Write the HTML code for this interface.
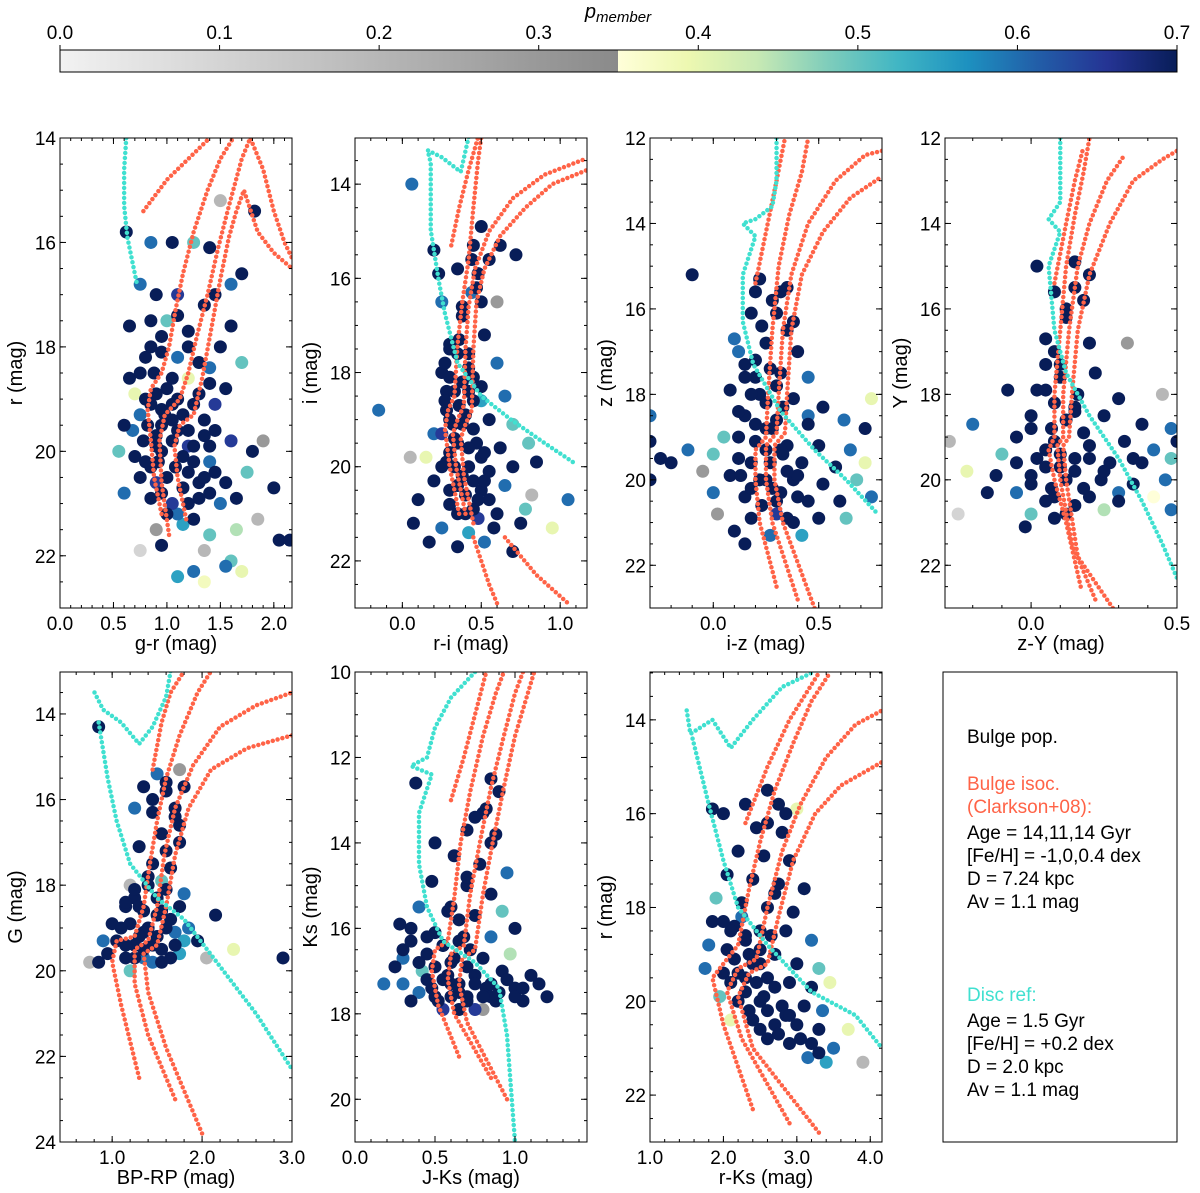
<!DOCTYPE html>
<html><head><meta charset="utf-8"><style>
body{margin:0;background:#fff;}
svg{display:block;font-family:"Liberation Sans","DejaVu Sans",sans-serif;}
</style></head><body>
<svg id="fig" width="1200" height="1193" viewBox="0 0 1200 1193" xmlns="http://www.w3.org/2000/svg">
<defs>
<linearGradient id="gGray" x1="0" x2="1"><stop offset="0" stop-color="#f2f2f2"/><stop offset="1" stop-color="#8a8a8a"/></linearGradient>
<linearGradient id="gYl" x1="0" x2="1">
<stop offset="0" stop-color="#ffffd9"/><stop offset=".125" stop-color="#edf8b1"/><stop offset=".25" stop-color="#c7e9b4"/><stop offset=".375" stop-color="#7fcdbb"/><stop offset=".5" stop-color="#41b6c4"/><stop offset=".625" stop-color="#1d91c0"/><stop offset=".75" stop-color="#225ea8"/><stop offset=".875" stop-color="#253494"/><stop offset="1" stop-color="#081d58"/></linearGradient>
</defs>
<g>
<rect x="60" y="50" width="558" height="22" fill="url(#gGray)"/>
<rect x="618" y="50" width="559" height="22" fill="url(#gYl)"/>
<rect x="60" y="50" width="1117" height="22" fill="none" stroke="#000" stroke-width="1"/>
<text x="618" y="18" font-size="20" font-style="italic" text-anchor="middle">p<tspan font-size="15" dy="4">member</tspan></text>
</g>
<g id="cbticks"></g>
<g id="panels"></g>
<g>
<rect x="943" y="672" width="234" height="470" fill="#fff" stroke="#000" stroke-width="1"/>
<text x="967" y="743" font-size="19">Bulge pop.</text>
<text x="967" y="790" font-size="19" fill="#ff6347">Bulge isoc.</text>
<text x="967" y="813" font-size="19" fill="#ff6347">(Clarkson+08):</text>
<text x="967" y="839" font-size="19">Age = 14,11,14 Gyr</text>
<text x="967" y="862" font-size="19">[Fe/H] = -1,0,0.4 dex</text>
<text x="967" y="885" font-size="19">D = 7.24 kpc</text>
<text x="967" y="908" font-size="19">Av = 1.1 mag</text>
<text x="967" y="1001" font-size="19" fill="#40e0d0">Disc ref:</text>
<text x="967" y="1027" font-size="19">Age = 1.5 Gyr</text>
<text x="967" y="1050" font-size="19">[Fe/H] = +0.2 dex</text>
<text x="967" y="1073" font-size="19">D = 2.0 kpc</text>
<text x="967" y="1096" font-size="19">Av = 1.1 mag</text>
</g>
</svg>
<script>
const cbTicks=[0.0,0.1,0.2,0.3,0.4,0.5,0.6,0.7];
// scatter data [color, mag, pmember]
const pts1=[[0.62,15.8,.7],[0.85,16.0,.6],[1.05,16.0,.7],[1.25,16.0,.5],[0.75,16.8,.6],[0.9,17.0,.7],[1.1,17.4,.7],[1.35,17.2,.7],[1.6,16.8,.6],[1.5,15.2,.2],[1.82,15.4,.7],[0.95,17.8,.7],[1.2,18.0,.7],[0.8,18.2,.7],[0.65,18.6,.7],[1.4,18.4,.6],[1.0,18.8,.7],[1.3,18.9,.7],[1.55,18.8,.7],[1.7,18.3,.5],[0.6,19.5,.7],[0.75,19.3,.6],[0.9,19.7,.7],[1.1,19.6,.7],[1.25,19.9,.7],[1.45,19.6,.7],[1.6,19.8,.65],[0.55,20.0,.5],[0.7,20.1,.7],[0.85,20.3,.7],[1.0,20.5,.7],[1.2,20.4,.7],[1.4,20.2,.6],[1.55,20.6,.7],[1.75,20.4,.5],[1.9,19.8,.3],[0.6,20.8,.6],[0.85,20.9,.7],[1.05,21.0,.65],[1.3,20.9,.7],[1.5,21.0,.6],[2.0,20.7,.7],[0.9,21.5,.3],[1.15,21.4,.55],[1.4,21.6,.5],[1.65,21.5,.45],[2.05,21.7,.7],[2.15,21.7,.7],[1.85,21.3,.2],[0.75,21.9,.1],[1.35,21.9,.2],[1.6,22.1,.5],[1.25,22.3,.6],[1.7,22.3,.4],[1.55,22.2,.6],[1.1,22.4,.55],[1.35,22.5,.38],[0.9,18.9,.7],[1.15,19.3,.7],[1.35,19.4,.7],[0.95,20.0,.7],[1.15,20.1,.7],[1.3,20.6,.7],[1.05,19.1,.7],[0.8,19.0,.7],[1.5,18.0,.7],[1.2,18.6,.4],[1.8,20.0,.7],[1.65,20.9,.7],[0.65,17.6,.7],[1.0,17.5,.5],[1.45,17.0,.7],[1.6,17.6,.7],[1.7,16.6,.7],[1.4,16.1,.7],[0.95,21.8,.7],[1.0,21.2,.7],[1.25,21.3,.7],[1.2,17.7,.7],[0.98,19.3,.7],
[0.85,18.0,.7],[0.95,18.1,.7],[1.1,18.2,.6],[1.3,18.3,.7],[0.75,18.5,.7],[0.88,18.5,.7],[1.05,18.6,.7],[1.4,18.7,.7],[0.7,18.9,.4],[0.85,19.1,.7],[0.95,19.2,.7],[1.1,19.0,.7],[1.25,19.1,.7],[1.45,19.1,.65],[0.68,19.6,.6],[0.82,19.5,.7],[0.95,19.5,.7],[1.05,19.4,.7],[1.2,19.6,.7],[1.35,19.7,.7],[0.78,19.8,.7],[0.9,19.9,.7],[1.05,19.8,.7],[1.2,19.9,.65],[1.4,19.9,.7],[0.8,20.2,.7],[0.92,20.2,.7],[1.08,20.3,.7],[1.25,20.2,.7],[1.45,20.4,.7],[0.75,20.5,.7],[0.9,20.6,.65],[1.15,20.7,.7],[1.35,20.5,.7],[0.95,20.8,.7],[1.2,21.0,.7],[1.4,20.8,.7],[1.1,21.2,.6],[0.85,17.5,.7],[1.1,17.0,.65]];
const pts2=[[0.06,14.0,.6],[0.5,14.9,.7],[0.45,15.3,.7],[0.72,15.5,.7],[0.55,15.6,.7],[0.35,15.8,.7],[0.47,16.2,.7],[0.6,16.5,.3],[0.38,16.8,.7],[0.52,17.2,.7],[0.3,17.5,.7],[0.42,17.6,.7],[0.6,17.8,.6],[0.25,18.0,.7],[0.38,18.2,.7],[0.5,18.3,.7],[0.65,18.5,.6],[-0.15,18.8,.6],[0.28,18.8,.7],[0.4,18.9,.7],[0.55,19.0,.7],[0.7,19.1,.5],[0.2,19.3,.6],[0.33,19.4,.7],[0.47,19.5,.7],[0.62,19.6,.7],[0.8,19.5,.5],[0.05,19.8,.2],[0.15,19.8,.4],[0.28,19.9,.7],[0.42,20.0,.7],[0.55,20.1,.7],[0.7,20.0,.7],[0.85,19.9,.7],[0.2,20.3,.7],[0.35,20.4,.7],[0.5,20.5,.7],[0.65,20.4,.6],[0.82,20.6,.2],[0.1,20.7,.7],[0.3,20.8,.7],[0.45,20.9,.7],[0.6,21.0,.7],[0.78,20.9,.5],[1.05,20.7,.6],[0.07,21.2,.7],[0.25,21.3,.6],[0.42,21.4,.55],[0.58,21.3,.7],[0.75,21.2,.7],[0.95,21.3,.4],[0.17,21.6,.7],[0.35,21.7,.7],[0.52,21.6,.6],[0.7,21.8,.7],[0.32,19.1,.7],[0.45,18.6,.7],[0.38,20.2,.7],[0.5,19.8,.7],[0.28,18.4,.7],[0.36,17.3,.7],[0.55,20.7,.7],[0.4,21.0,.7],[0.62,15.3,.7],[0.25,16.5,.6],
[0.3,17.4,.7],[0.35,17.6,.7],[0.27,17.8,.7],[0.42,17.9,.7],[0.3,18.1,.7],[0.45,18.1,.7],[0.33,18.4,.7],[0.42,18.4,.7],[0.5,18.6,.55],[0.27,18.6,.7],[0.36,18.7,.7],[0.3,19.0,.7],[0.38,19.1,.7],[0.45,19.2,.7],[0.25,19.3,.65],[0.35,19.5,.7],[0.42,19.6,.7],[0.52,19.7,.7],[0.3,19.7,.7],[0.25,20.0,.7],[0.33,20.0,.7],[0.45,20.3,.7],[0.52,20.3,.7],[0.3,20.5,.7],[0.4,20.6,.7],[0.48,20.7,.7],[0.35,21.0,.7],[0.48,21.1,.65],[0.44,15.6,.7],[0.48,15.9,.7],[0.5,16.5,.7],[0.44,16.3,.6],[0.38,16.6,.7],[0.2,15.4,.7],[0.23,15.9,.7]];
const pts3=[[-0.1,15.2,.7],[0.22,15.3,.7],[0.35,15.5,.7],[0.28,15.8,.7],[0.18,16.1,.7],[0.38,16.3,.7],[0.1,16.7,.6],[0.25,16.8,.7],[0.4,17.0,.7],[0.15,17.3,.7],[0.32,17.5,.7],[0.45,17.6,.6],[0.08,17.9,.7],[0.22,18.0,.7],[0.38,18.1,.7],[0.52,18.3,.7],[0.75,18.1,.4],[0.15,18.5,.7],[0.3,18.6,.7],[0.45,18.7,.7],[0.62,18.6,.6],[0.72,18.8,.7],[-0.3,18.5,.6],[0.05,19.0,.5],[0.2,19.1,.7],[0.35,19.2,.7],[0.5,19.2,.7],[0.65,19.3,.6],[-0.3,19.1,.7],[-0.12,19.3,.6],[0.0,19.4,.5],[0.12,19.5,.7],[0.27,19.6,.7],[0.42,19.6,.7],[0.58,19.7,.7],[0.72,19.6,.4],[-0.25,19.5,.7],[-0.2,19.6,.7],[-0.05,19.8,.3],[0.08,19.9,.7],[0.22,20.0,.7],[0.38,20.0,.7],[0.52,20.1,.7],[0.68,20.0,.5],[-0.3,20.0,.7],[0.0,20.3,.6],[0.15,20.4,.7],[0.3,20.5,.7],[0.45,20.5,.7],[0.6,20.5,.7],[0.75,20.4,.6],[0.02,20.8,.3],[0.18,20.9,.7],[0.35,20.9,.7],[0.5,20.9,.7],[0.63,20.9,.5],[0.1,21.2,.7],[0.27,21.3,.6],[0.42,21.3,.55],[0.15,21.5,.7],[0.32,19.3,.7],[0.25,18.8,.7],[0.28,20.2,.7],[0.4,19.9,.7],[0.2,17.6,.7],
[0.2,17.2,.7],[0.27,17.4,.7],[0.15,17.6,.7],[0.3,17.8,.7],[0.18,18.0,.7],[0.25,18.2,.7],[0.33,18.3,.7],[0.12,18.4,.7],[0.2,18.7,.7],[0.28,18.8,.7],[0.12,19.0,.7],[0.25,19.3,.7],[0.33,19.4,.7],[0.18,19.6,.7],[0.35,19.8,.7],[0.13,19.9,.7],[0.25,20.0,.7],[0.18,20.2,.7],[0.32,20.3,.7],[0.4,20.4,.7],[0.23,20.6,.7],[0.3,20.8,.65],[0.38,21.0,.7],[0.2,15.6,.7],[0.32,15.6,.7],[0.3,16.1,.7],[0.35,16.5,.7],[0.23,16.4,.7],[0.12,17.0,.6],[0.45,18.5,.6]];
const pts4=[[0.02,15.0,.7],[0.15,14.9,.7],[0.2,15.2,.7],[0.08,15.6,.7],[0.18,15.8,.7],[0.12,16.2,.7],[0.05,16.7,.7],[0.2,16.8,.7],[0.33,16.8,.3],[0.1,17.3,.7],[0.22,17.5,.7],[-0.08,17.9,.7],[0.05,17.9,.7],[0.16,18.0,.7],[0.3,18.1,.7],[0.45,18.0,.2],[0.0,18.5,.7],[0.12,18.6,.7],[0.25,18.5,.7],[0.38,18.7,.7],[-0.2,18.7,.6],[0.48,18.8,.6],[-0.28,19.1,.2],[-0.05,19.0,.7],[0.08,19.1,.7],[0.2,19.2,.7],[0.32,19.1,.7],[0.42,19.3,.6],[0.5,19.1,.7],[-0.1,19.4,.5],[0.02,19.5,.7],[0.15,19.5,.7],[0.27,19.6,.7],[0.38,19.6,.7],[0.48,19.5,.5],[-0.22,19.8,.4],[-0.12,19.9,.7],[0.0,19.9,.7],[0.12,20.0,.7],[0.24,20.0,.7],[0.35,20.1,.7],[0.46,20.0,.6],[-0.05,20.3,.6],[0.08,20.4,.7],[0.2,20.4,.7],[0.3,20.5,.7],[0.42,20.4,.35],[-0.25,20.8,.1],[0.0,20.8,.5],[0.12,20.8,.7],[0.25,20.7,.45],[0.48,20.7,.6],[-0.02,21.1,.7],[0.1,19.7,.7],[0.05,19.3,.7],[0.15,18.3,.7],[0.08,17.0,.7],
[0.05,17.3,.7],[0.1,17.6,.7],[0.02,17.9,.7],[0.08,18.2,.7],[0.15,18.4,.7],[0.0,18.8,.7],[0.07,18.8,.7],[0.18,18.9,.7],[0.1,19.4,.7],[0.2,19.5,.7],[-0.05,19.6,.7],[0.05,19.7,.7],[0.15,19.8,.7],[0.25,19.8,.7],[0.0,20.1,.7],[0.07,20.2,.7],[0.18,20.2,.7],[0.3,20.3,.6],[0.05,20.5,.7],[0.15,20.6,.7],[0.08,20.9,.7],[-0.15,20.3,.7],[0.35,19.5,.7],[0.12,16.0,.7],[0.15,15.5,.7]];
const pts5=[[0.85,14.3,.7],[1.5,15.4,.6],[1.75,15.3,.3],[1.35,15.7,.7],[1.6,15.8,.7],[1.8,15.7,.7],[1.25,16.2,.6],[1.45,16.3,.7],[1.7,16.4,.7],[1.55,16.8,.7],[1.3,17.1,.7],[1.75,17.0,.7],[1.45,17.5,.7],[1.65,17.6,.7],[1.2,18.0,.2],[1.4,18.0,.7],[1.6,18.1,.7],[1.8,18.2,.6],[1.15,18.5,.7],[1.35,18.6,.7],[1.55,18.6,.7],[1.75,18.5,.7],[1.0,18.9,.7],[1.2,18.9,.7],[1.4,19.0,.7],[1.6,19.0,.7],[1.85,19.0,.6],[2.15,18.7,.7],[0.9,19.3,.6],[1.05,19.3,.7],[1.25,19.4,.7],[1.45,19.4,.7],[1.7,19.4,.7],[1.95,19.3,.7],[0.95,19.6,.7],[1.15,19.7,.7],[1.35,19.7,.6],[1.55,19.8,.7],[1.75,19.6,.55],[2.05,19.7,.2],[2.35,19.5,.4],[0.75,19.8,.2],[0.85,19.8,.7],[1.2,20.0,.5],[2.9,19.7,.7],[1.6,17.2,.7],[1.35,19.1,.7],[1.5,18.3,.7],[1.25,18.3,.7],[1.45,16.0,.7],
[1.15,18.4,.7],[1.3,18.5,.7],[1.5,18.7,.7],[1.65,18.8,.7],[1.1,19.0,.7],[1.3,19.2,.7],[1.5,19.2,.7],[1.7,19.1,.6],[1.15,19.4,.7],[1.35,19.5,.7],[1.55,19.5,.7],[1.8,19.3,.55],[1.25,19.7,.7],[1.45,19.8,.6],[1.65,19.7,.7],[1.25,18.1,.7],[1.55,17.9,.5],[1.7,16.2,.7],[1.6,15.6,.7],[1.75,16.6,.7],[1.4,17.8,.7]];
const pts6=[[0.38,12.6,.7],[0.85,12.5,.7],[0.9,12.8,.7],[0.8,13.3,.7],[0.7,13.7,.7],[0.88,13.8,.7],[0.5,14.0,.7],[0.62,14.3,.7],[0.78,14.5,.7],[0.95,14.7,.6],[0.48,14.9,.7],[0.7,15.0,.7],[0.85,15.2,.7],[0.4,15.5,.6],[0.58,15.6,.7],[0.75,15.7,.7],[0.92,15.6,.5],[0.35,16.0,.7],[0.5,16.1,.7],[0.68,16.2,.7],[0.85,16.2,.6],[1.0,16.0,.7],[0.3,16.5,.7],[0.45,16.6,.7],[0.62,16.7,.7],[0.8,16.7,.7],[0.97,16.6,.45],[0.25,16.9,.7],[0.42,17.0,.5],[0.58,17.1,.7],[0.75,17.1,.7],[0.92,17.0,.7],[1.1,17.1,.7],[0.3,17.3,.6],[0.48,17.4,.7],[0.65,17.5,.7],[0.82,17.4,.7],[1.0,17.4,.7],[1.15,17.3,.7],[0.18,17.3,.6],[0.35,17.7,.7],[0.52,17.7,.7],[0.7,17.7,.7],[0.88,17.7,.7],[1.05,17.7,.7],[1.2,17.6,.7],[0.8,17.9,.3],[0.55,16.4,.7],[0.72,16.5,.7],[0.6,17.3,.7],[0.85,17.6,.7],[0.65,15.8,.7],
[0.35,16.3,.7],[0.45,16.2,.7],[0.55,16.4,.7],[0.65,16.3,.7],[0.4,16.8,.7],[0.5,16.9,.7],[0.6,16.8,.7],[0.7,16.9,.7],[0.45,17.2,.7],[0.55,17.2,.7],[0.65,17.3,.7],[0.75,17.3,.7],[0.85,17.3,.7],[0.5,17.6,.7],[0.6,17.6,.7],[0.7,17.6,.7],[0.8,17.6,.7],[0.9,17.5,.7],[1.0,17.6,.7],[0.95,17.2,.7],[1.05,17.4,.7],[0.55,17.9,.65],[0.65,17.9,.7],[0.75,17.9,.65],[0.3,16.7,.6],[0.4,17.5,.6],[0.28,15.9,.7],[0.6,15.5,.7],[0.7,14.8,.7],[0.85,14.0,.7],[0.82,13.2,.7],[0.75,13.4,.7]];
const pts7=[[2.3,15.8,.7],[2.6,15.5,.7],[3.0,15.9,.4],[2.45,16.3,.7],[2.8,16.4,.7],[2.2,16.8,.7],[2.55,16.9,.7],[2.9,17.0,.7],[2.05,17.3,.7],[2.4,17.4,.7],[2.75,17.5,.7],[3.1,17.6,.7],[1.9,17.8,.5],[2.25,17.9,.7],[2.6,18.0,.7],[2.95,18.1,.7],[1.85,18.3,.7],[2.15,18.4,.7],[2.5,18.5,.7],[2.85,18.5,.7],[3.2,18.7,.6],[1.8,18.8,.6],[2.05,18.9,.7],[2.35,19.0,.7],[2.7,19.0,.7],[3.0,19.2,.7],[3.3,19.3,.5],[1.75,19.3,.6],[2.0,19.4,.7],[2.3,19.5,.7],[2.6,19.5,.7],[2.9,19.6,.7],[3.2,19.7,.7],[3.45,19.6,.4],[1.95,19.9,.5],[2.2,20.0,.7],[2.5,20.0,.7],[2.8,20.1,.7],[3.1,20.1,.7],[3.35,20.2,.6],[2.1,20.4,.4],[2.4,20.4,.7],[2.7,20.5,.7],[3.0,20.5,.7],[3.3,20.6,.7],[3.7,20.6,.4],[2.6,20.8,.7],[2.9,20.9,.7],[3.2,20.9,.7],[3.5,21.0,.6],[3.4,21.3,.55],[3.9,21.3,.2],[2.5,19.2,.7],[2.3,18.6,.7],[2.7,17.7,.7],
[2.1,18.5,.7],[2.3,18.7,.7],[2.5,18.9,.7],[2.15,19.1,.7],[2.4,19.2,.7],[2.2,19.4,.7],[2.45,19.6,.7],[2.7,19.7,.7],[2.1,19.6,.7],[2.3,19.8,.7],[2.55,19.9,.7],[2.35,20.2,.7],[2.6,20.2,.7],[2.85,20.3,.7],[2.5,20.6,.7],[2.75,20.7,.7],[3.05,20.8,.7],[2.9,20.3,.7],[3.3,21.1,.7],[3.15,21.2,.6],[2.0,18.3,.7],[2.25,18.2,.6],[2.65,18.6,.7],[2.6,16.2,.7],[2.85,16.0,.7],[2.75,15.8,.7],[2.0,16.0,.7],[1.85,15.9,.7]];
// isochrones: [[color, mag], ...]
const iso=[
 {p:0,c:'#ff6347',d:[[0.95,21.2],[0.88,20.5],[0.85,19.8],[0.82,19.2],[0.85,18.8],[0.95,18.5],[1.02,18.0],[1.08,17.3],[1.15,16.6],[1.25,15.8],[1.38,15.0],[1.5,14.4],[1.62,14.0]]},
 {p:0,c:'#ff6347',d:[[1.02,21.6],[0.95,20.6],[0.93,19.8],[0.98,19.3],[1.12,19.0],[1.2,18.5],[1.28,17.8],[1.38,17.0],[1.48,16.1],[1.58,15.3],[1.7,14.4],[1.78,14.0],[1.9,14.6],[2.0,15.4],[2.1,16.0],[2.17,16.3]]},
 {p:0,c:'#ff6347',d:[[1.18,21.3],[1.1,20.5],[1.07,19.9],[1.12,19.5],[1.25,19.3],[1.33,18.6],[1.42,17.6],[1.5,16.7],[1.58,15.9],[1.65,15.4],[1.72,15.0],[1.85,15.8],[2.0,16.2],[2.17,16.5]]},
 {p:0,c:'#ff6347',d:[[0.78,15.4],[1.0,14.8],[1.2,14.4],[1.4,14.0]]},
 {p:0,c:'#40e0d0',d:[[0.62,14.0],[0.6,14.6],[0.6,15.3],[0.63,15.9],[0.68,16.4],[0.72,16.8]]},
 {p:1,c:'#ff6347',d:[[0.36,21.0],[0.3,20.0],[0.27,19.2],[0.29,18.8],[0.33,18.5],[0.35,17.4],[0.38,16.5],[0.42,15.6],[0.45,14.5],[0.48,13.5],[0.5,13.0]]},
 {p:1,c:'#ff6347',d:[[0.4,21.0],[0.34,20.0],[0.32,19.3],[0.35,19.0],[0.39,18.7],[0.4,17.5],[0.42,16.6],[0.46,15.8],[0.55,15.0],[0.7,14.3],[0.9,13.8],[1.17,13.45]]},
 {p:1,c:'#ff6347',d:[[0.45,21.2],[0.39,20.2],[0.37,19.4],[0.4,19.1],[0.44,18.8],[0.45,17.5],[0.47,16.5],[0.52,15.8],[0.62,15.1],[0.78,14.5],[0.95,14.0],[1.17,13.7]]},
 {p:1,c:'#ff6347',d:[[0.31,15.3],[0.36,14.5],[0.42,13.7],[0.48,13.0]]},
 {p:1,c:'#ff6347',d:[[0.45,21.5],[0.5,22.0],[0.55,22.5],[0.6,22.9]]},
 {p:1,c:'#ff6347',d:[[0.65,21.5],[0.85,22.3],[1.05,22.9]]},
 {p:1,c:'#40e0d0',d:[[0.42,13.0],[0.37,13.74],[0.25,13.43],[0.16,13.28],[0.18,13.55],[0.18,14.98],[0.23,16.04],[0.27,16.75],[0.35,17.8],[0.5,18.5],[0.68,18.98],[0.88,19.45],[1.08,19.9]]},
 {p:2,c:'#ff6347',d:[[0.3,22.5],[0.22,21.0],[0.2,20.0],[0.2,19.3],[0.25,19.0],[0.26,18.0],[0.28,16.5],[0.31,15.0],[0.36,13.8],[0.42,12.8],[0.45,12.0]]},
 {p:2,c:'#ff6347',d:[[0.4,22.8],[0.28,21.0],[0.25,20.0],[0.25,19.2],[0.3,18.9],[0.31,18.0],[0.33,16.5],[0.37,15.2],[0.45,14.0],[0.58,13.0],[0.72,12.4],[0.8,12.3]]},
 {p:2,c:'#ff6347',d:[[0.48,23.0],[0.33,21.0],[0.29,20.0],[0.29,19.2],[0.34,18.9],[0.35,18.0],[0.37,16.5],[0.42,15.2],[0.52,14.2],[0.65,13.4],[0.8,12.9]]},
 {p:2,c:'#ff6347',d:[[0.2,15.4],[0.25,14.2],[0.3,13.0],[0.34,12.0]]},
 {p:2,c:'#40e0d0',d:[[0.3,12.0],[0.3,13.0],[0.28,13.6],[0.2,13.9],[0.14,14.0],[0.2,14.3],[0.14,15.2],[0.14,16.3],[0.19,17.3],[0.32,18.4],[0.48,19.3],[0.63,20.0],[0.78,20.8]]},
 {p:3,c:'#ff6347',d:[[0.17,22.5],[0.12,21.0],[0.08,20.0],[0.06,19.3],[0.08,19.0],[0.08,18.0],[0.1,16.5],[0.12,15.0],[0.15,13.8],[0.18,12.8],[0.2,12.0]]},
 {p:3,c:'#ff6347',d:[[0.22,22.8],[0.14,21.5],[0.1,20.0],[0.09,19.2],[0.11,19.0],[0.11,18.0],[0.13,16.5],[0.16,15.0],[0.2,14.0],[0.26,13.0],[0.32,12.4]]},
 {p:3,c:'#ff6347',d:[[0.28,23.0],[0.16,21.8],[0.12,20.0],[0.11,19.2],[0.13,19.0],[0.14,18.0],[0.16,16.5],[0.2,15.2],[0.27,14.0],[0.35,13.0],[0.45,12.5],[0.5,12.3]]},
 {p:3,c:'#ff6347',d:[[0.08,15.4],[0.12,14.0],[0.15,13.0],[0.18,12.2]]},
 {p:3,c:'#40e0d0',d:[[0.1,12.0],[0.1,13.5],[0.06,13.9],[0.1,14.2],[0.06,15.0],[0.08,16.5],[0.12,17.5],[0.2,18.5],[0.3,19.5],[0.38,20.5],[0.45,21.5],[0.5,22.3]]},
 {p:4,c:'#ff6347',d:[[1.3,22.5],[1.1,20.8],[1.0,19.8],[1.05,19.3],[1.25,19.2],[1.35,18.5],[1.42,17.5],[1.5,16.5],[1.6,15.5],[1.75,14.5],[1.95,13.5],[2.1,13.0]]},
 {p:4,c:'#ff6347',d:[[1.7,23.0],[1.4,21.5],[1.25,20.3],[1.25,19.5],[1.4,19.3],[1.5,18.5],[1.58,17.3],[1.7,16.2],[1.9,15.2],[2.2,14.3],[2.6,13.8],[3.0,13.5]]},
 {p:4,c:'#ff6347',d:[[2.0,23.8],[1.6,21.8],[1.4,20.5],[1.35,19.6],[1.5,19.4],[1.6,18.5],[1.7,17.3],[1.85,16.2],[2.1,15.3],[2.5,14.8],[3.0,14.5]]},
 {p:4,c:'#ff6347',d:[[1.45,15.3],[1.55,14.2],[1.65,13.5],[1.8,13.0]]},
 {p:4,c:'#40e0d0',d:[[1.65,13.0],[1.6,13.6],[1.45,14.3],[1.3,14.7],[1.1,14.2],[0.9,13.9],[0.78,13.4]]},
 {p:4,c:'#40e0d0',d:[[0.85,14.2],[0.95,15.5],[1.05,16.5],[1.2,17.5],[1.5,18.3],[1.8,18.8],[2.2,19.9],[2.6,21.0],[3.0,22.3]]},
 {p:5,c:'#ff6347',d:[[0.65,19.0],[0.52,17.8],[0.48,17.0],[0.5,16.5],[0.58,16.3],[0.62,15.3],[0.66,14.0],[0.72,12.8],[0.8,11.5],[0.88,10.5],[0.93,10.0]]},
 {p:5,c:'#ff6347',d:[[0.85,19.5],[0.62,18.0],[0.58,17.2],[0.6,16.6],[0.68,16.4],[0.72,15.2],[0.78,14.0],[0.85,12.7],[0.93,11.5],[1.0,10.5],[1.05,10.0]]},
 {p:5,c:'#ff6347',d:[[0.95,20.0],[0.7,18.2],[0.65,17.3],[0.67,16.7],[0.75,16.5],[0.8,15.2],[0.86,14.0],[0.93,12.7],[1.0,11.5],[1.08,10.5],[1.12,10.0]]},
 {p:5,c:'#ff6347',d:[[0.6,13.0],[0.68,12.0],[0.75,11.0],[0.82,10.0]]},
 {p:5,c:'#40e0d0',d:[[0.75,10.0],[0.6,10.6],[0.5,11.3],[0.45,12.0],[0.35,12.2],[0.48,12.4],[0.4,13.3],[0.4,14.5],[0.45,15.5],[0.55,16.3],[0.75,16.8],[0.9,17.4],[0.95,18.5],[0.98,20.0],[1.0,21.0]]},
 {p:6,c:'#ff6347',d:[[2.4,22.3],[2.0,20.5],[1.85,19.5],[2.0,19.2],[2.2,18.8],[2.35,17.6],[2.5,16.6],[2.7,15.5],[2.95,14.5],[3.2,13.6],[3.45,13.0]]},
 {p:6,c:'#ff6347',d:[[2.9,22.6],[2.25,20.8],[2.05,19.8],[2.2,19.3],[2.45,19.1],[2.6,18.0],[2.8,16.8],[3.05,15.8],[3.4,14.8],[3.8,14.1],[4.16,13.8]]},
 {p:6,c:'#ff6347',d:[[3.3,22.8],[2.4,21.0],[2.2,19.9],[2.35,19.4],[2.6,19.2],[2.75,18.2],[2.95,17.0],[3.25,16.0],[3.6,15.4],[4.16,14.9]]},
 {p:6,c:'#ff6347',d:[[2.3,16.2],[2.6,15.0],[2.9,14.0],[3.3,13.0]]},
 {p:6,c:'#40e0d0',d:[[1.5,13.8],[1.55,14.3],[1.85,14.0],[2.1,14.6],[2.4,14.0],[2.8,13.3],[3.2,13.0]]},
 {p:6,c:'#40e0d0',d:[[1.58,14.4],[1.8,15.8],[2.0,17.0],[2.2,18.0],[2.6,18.8],[3.2,19.8],[3.8,20.3],[4.16,21.0]]}
];
const panels=[
 {n:'g-r',x0:60,y0:138,x1:0,x2:2.17,y1:14,y2:23,xt:[0,0.5,1,1.5,2],xl:'g-r (mag)',yt:[14,16,18,20,22],yl:'r (mag)',pts:pts1,xm:0.1,ym:0.5},
 {n:'r-i',x0:355,y0:138,x1:-0.3,x2:1.17,y1:13.02,y2:23,xt:[0,0.5,1],xl:'r-i (mag)',yt:[14,16,18,20,22],yl:'i (mag)',pts:pts2,xm:0.1,ym:0.5},
 {n:'i-z',x0:650,y0:138,x1:-0.3,x2:0.8,y1:12,y2:23,xt:[0,0.5],xl:'i-z (mag)',yt:[12,14,16,18,20,22],yl:'z (mag)',pts:pts3,xm:0.1,ym:0.5},
 {n:'z-Y',x0:945,y0:138,x1:-0.295,x2:0.5,y1:12,y2:23,xt:[0,0.5],xl:'z-Y (mag)',yt:[12,14,16,18,20,22],yl:'Y (mag)',pts:pts4,xm:0.1,ym:0.5},
 {n:'bp-rp',x0:60,y0:672,x1:0.42,x2:3.0,y1:13.02,y2:24,xt:[1,2,3],xl:'BP-RP (mag)',yt:[14,16,18,20,22,24],yl:'G (mag)',pts:pts5,xm:0.2,ym:0.5},
 {n:'j-ks',x0:355,y0:672,x1:0,x2:1.45,y1:10,y2:21,xt:[0,0.5,1],xl:'J-Ks (mag)',yt:[10,12,14,16,18,20],yl:'Ks (mag)',pts:pts6,xm:0.1,ym:0.5},
 {n:'r-ks',x0:650,y0:672,x1:1.0,x2:4.16,y1:12.98,y2:23,xt:[1,2,3,4],xl:'r-Ks (mag)',yt:[14,16,18,20,22],yl:'r (mag)',pts:pts7,xm:0.2,ym:0.5}
];
const NS='http://www.w3.org/2000/svg';
const W=232,H=470;
function el(t,a,par){const e=document.createElementNS(NS,t);for(const k in a)e.setAttribute(k,a[k]);par.appendChild(e);return e;}
function hex(h){return [1,3,5].map(i=>parseInt(h.substr(i,2),16));}
const yl=['#ffffd9','#edf8b1','#c7e9b4','#7fcdbb','#41b6c4','#1d91c0','#225ea8','#253494','#081d58'];
function cmap(p){
 if(p<0.35){const t=p/0.35;const a=hex('#f2f2f2'),b=hex('#8a8a8a');return 'rgb('+a.map((v,i)=>Math.round(v+(b[i]-v)*t)).join(',')+')';}
 let t=Math.min(1,(p-0.35)/0.35)*8;const i=Math.min(7,Math.floor(t));const f=t-i;const a=hex(yl[i]),b=hex(yl[i+1]);
 return 'rgb('+a.map((v,k)=>Math.round(v+(b[k]-v)*f)).join(',')+')';
}
const cbg=document.getElementById('cbticks');
cbTicks.forEach(v=>{const x=60+v/0.7*1117;
 const tl=el('line',{x1:x,x2:x,y1:50,y2:45,stroke:'#000'},cbg);
 
 
 const t=el('text',{x:x,y:39,'font-size':19,'text-anchor':'middle'},cbg);t.textContent=v.toFixed(1);
 
 
});
const root=document.getElementById('panels');
panels.forEach((P,pi)=>{
 const g=el('g',{},root);
 
 
 const sx=v=>P.x0+(v-P.x1)/(P.x2-P.x1)*W;
 const sy=v=>P.y0+(v-P.y1)/(P.y2-P.y1)*H;
 const cid='clip'+pi;
 const cp=el('clipPath',{id:cid},g);el('rect',{x:P.x0,y:P.y0,width:W,height:H},cp);
 const data=el('g',{'clip-path':'url(#'+cid+')'},g);
 
 
 const sorted=P.pts.slice().sort((a,b)=>a[2]-b[2]);
 sorted.forEach(d=>{const c=el('circle',{cx:sx(d[0]),cy:sy(d[1]),r:6.5,fill:cmap(d[2])},data);
  
  });
 iso.filter(s=>s.p===pi).forEach(s=>{
  const pl=el('polyline',{points:s.d.map(d=>sx(d[0])+','+sy(d[1])).join(' '),fill:'none',stroke:s.c,'stroke-width':4.5,'stroke-linecap':'round','stroke-dasharray':'0 5'},data);
  
  
 });
 const fr=el('rect',{x:P.x0,y:P.y0,width:W,height:H,fill:'none',stroke:'#000','stroke-width':1},g);
 
 
 for(let v=Math.ceil(P.x1/P.xm-1e-9)*P.xm;v<=P.x2+1e-9;v+=P.xm){const x=sx(v);
  el('line',{x1:x,x2:x,y1:P.y0+H,y2:P.y0+H-3,stroke:'#000'},g);el('line',{x1:x,x2:x,y1:P.y0,y2:P.y0+3,stroke:'#000'},g);}
 for(let v=Math.ceil(P.y1/P.ym-1e-9)*P.ym;v<=P.y2+1e-9;v+=P.ym){const y=sy(v);
  el('line',{x1:P.x0,x2:P.x0+3,y1:y,y2:y,stroke:'#000'},g);el('line',{x1:P.x0+W,x2:P.x0+W-3,y1:y,y2:y,stroke:'#000'},g);}
 P.xt.forEach(v=>{const x=sx(v);
  el('line',{x1:x,x2:x,y1:P.y0+H,y2:P.y0+H-6,stroke:'#000'},g);el('line',{x1:x,x2:x,y1:P.y0,y2:P.y0+6,stroke:'#000'},g);
  const t=el('text',{x:x,y:P.y0+H+22,'font-size':19,'text-anchor':'middle'},g);t.textContent=v.toFixed(1);
  
  });
 P.yt.forEach(v=>{const y=sy(v);
  el('line',{x1:P.x0,x2:P.x0+6,y1:y,y2:y,stroke:'#000'},g);el('line',{x1:P.x0+W,x2:P.x0+W-6,y1:y,y2:y,stroke:'#000'},g);
  const t=el('text',{x:P.x0-4,y:y+7,'font-size':19,'text-anchor':'end'},g);t.textContent=v;
  
  });
 const xt=el('text',{x:P.x0+W/2,y:P.y0+H+42,'font-size':20,'text-anchor':'middle'},g);xt.textContent=P.xl;
 
 
 const yx=P.x0-38,yy=P.y0+H/2;
 const ytt=el('text',{x:yx,y:yy,'font-size':20,'text-anchor':'middle',transform:'rotate(-90 '+yx+' '+yy+')'},g);ytt.textContent=P.yl;
 
 
});
</script>
</body></html>
